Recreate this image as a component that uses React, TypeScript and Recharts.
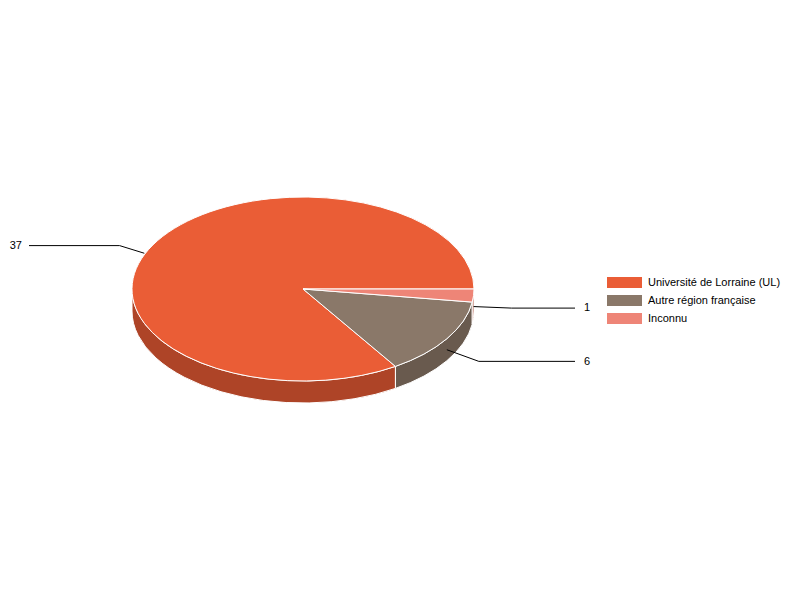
import { PieChart, Pie, Legend } from 'recharts';

const categories = ['Université de Lorraine (UL)', 'Autre région française', 'Inconnu'];
const values = [37, 6, 1];
const topColors = ['#EA5D36', '#8A7869', '#EE8577'];
const sideColors = ['#AE4427', '#695A4E', '#B0614F'];

const CX = 303;
const CY = 289;
const RX = 171;
const RY = 92;
const DEPTH = 22;
const FONT = '"Liberation Sans", Arial, sans-serif';

const topData = categories.map((name, i) => ({ name, value: values[i], fill: topColors[i] }));
const sideData = categories.map((name, i) => ({ name, value: values[i], fill: sideColors[i] }));

const pointAt = (angle: number, dy = 0, rx = RX, ry = RY) => {
  const rad = (angle * Math.PI) / 180;
  return { x: CX + rx * Math.cos(rad), y: CY + dy - ry * Math.sin(rad) };
};

const insideTop = (p: { x: number; y: number }) =>
  ((p.x - CX) / RX) ** 2 + ((p.y - CY) / RY) ** 2 < 1;

// recharts only knows circles, so the slice angles get redrawn on an ellipse
const TopSlice = (props: any) => {
  const { startAngle, endAngle, fill } = props;
  const a = pointAt(startAngle);
  const b = pointAt(endAngle);
  const large = endAngle - startAngle > 180 ? 1 : 0;
  const d = `M${CX},${CY} L${a.x},${a.y} A${RX},${RY} 0 ${large} 0 ${b.x},${b.y} Z`;
  return <path d={d} fill={fill} stroke="#fff" strokeWidth={1} strokeLinejoin="round" />;
};

// only the front half of the rim can be seen
const SideSlice = (props: any) => {
  const { startAngle, endAngle, fill } = props;
  const from = Math.max(startAngle, 180);
  const to = Math.min(endAngle, 360);
  if (to <= from) return null;
  const a = pointAt(from);
  const b = pointAt(to);
  const c = pointAt(to, DEPTH);
  const e = pointAt(from, DEPTH);
  const d = `M${a.x},${a.y} A${RX},${RY} 0 0 0 ${b.x},${b.y} L${c.x},${c.y} A${RX},${RY} 0 0 1 ${e.x},${e.y} Z`;
  return <path d={d} fill={fill} stroke="#fff" strokeWidth={1} strokeLinejoin="round" />;
};

const renderLabel = (props: any) => {
  const { midAngle, value } = props;
  let start = pointAt(midAngle, DEPTH / 2);
  const knee = pointAt(midAngle, DEPTH / 2, 209, 113.5);
  // labels paint above the pie, so stop the leader where it leaves the top face
  while (insideTop(start)) {
    const len = Math.hypot(knee.x - start.x, knee.y - start.y);
    start = {
      x: start.x + (knee.x - start.x) / len,
      y: start.y + (knee.y - start.y) / len,
    };
  }
  const left = knee.x < CX;
  const endX = left ? 29 : 575;
  return (
    <g>
      <polyline
        points={`${start.x},${start.y} ${knee.x},${knee.y} ${endX},${knee.y}`}
        fill="none"
        stroke="#000"
        strokeWidth={1}
      />
      <text
        x={left ? 22 : 584}
        y={knee.y + 3.4}
        textAnchor={left ? 'end' : 'start'}
        fontSize={11}
        fontFamily={FONT}
        fill="#000"
      >
        {value}
      </text>
    </g>
  );
};

const LegendList = ({ payload }: any) => {
  const entries = categories.map((name, i) =>
    (payload || []).find((p: any) => p.value === name && p.color === topColors[i]),
  );
  return (
    <div style={{ fontFamily: FONT, fontSize: 11, color: '#000' }}>
      {entries.filter(Boolean).map((entry: any) => (
        <div key={entry.value} style={{ display: 'flex', alignItems: 'center', height: 18 }}>
          <span style={{ width: 35, height: 11, background: entry.color, marginRight: 6 }} />
          <span>{entry.value}</span>
        </div>
      ))}
    </div>
  );
};

export default function App() {
  return (
    <div style={{ position: 'absolute', left: 0, top: 0, width: 800, height: 600, background: '#fff' }}>
      <PieChart width={800} height={600} margin={{ top: 0, right: 0, bottom: 0, left: 0 }}>
        <Pie
          data={sideData}
          dataKey="value"
          nameKey="name"
          cx={CX}
          cy={CY}
          outerRadius={RX}
          startAngle={0}
          endAngle={360}
          shape={SideSlice}
          label={renderLabel}
          labelLine={false}
          legendType="none"
          isAnimationActive={false}
        />
        <Pie
          data={topData}
          dataKey="value"
          nameKey="name"
          cx={CX}
          cy={CY}
          outerRadius={RX}
          startAngle={0}
          endAngle={360}
          shape={TopSlice}
          isAnimationActive={false}
        />
        <Legend
          layout="vertical"
          align="left"
          verticalAlign="top"
          content={<LegendList />}
          wrapperStyle={{ left: 607, top: 273, width: 190 }}
        />
      </PieChart>
    </div>
  );
}
